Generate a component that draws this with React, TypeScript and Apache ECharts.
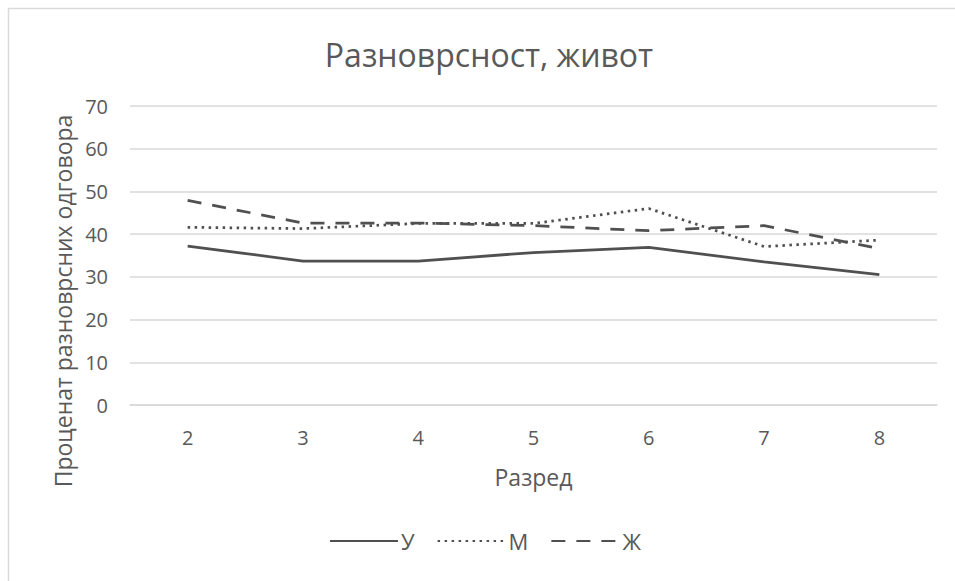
import React, { useEffect, useRef } from "react";
import * as echarts from "echarts";

const grades = ["2", "3", "4", "5", "6", "7", "8"];
const seriesU = [37.2, 33.7, 33.7, 35.7, 36.9, 33.5, 30.5];
const seriesM = [41.6, 41.3, 42.5, 42.5, 46.0, 37.1, 38.6];
const seriesZh = [47.9, 42.6, 42.6, 42.0, 40.8, 42.0, 36.6];
const yTicks = [0, 10, 20, 30, 40, 50, 60, 70];

const FONT = "'Open Sans', 'Noto Sans', sans-serif";
const GRAY = "#595959";
const LINE = "#505050";

export default function App() {
  const ref = useRef<HTMLDivElement>(null);

  useEffect(() => {
    document.body.style.margin = "0";
    if (!ref.current) return;
    const chart = echarts.init(ref.current, undefined, { renderer: "svg" });
    chart.setOption({
      animation: false,
      backgroundColor: "#ffffff",
      textStyle: { fontFamily: FONT },
      title: {
        text: "Разноврсност, живот",
        left: 484,
        top: 33,
        textAlign: "center",
        textStyle: { fontFamily: FONT, fontSize: 32, fontWeight: "normal", color: GRAY },
      },
      graphic: [
        {
          type: "polyline",
          shape: { points: [[8.5, 581], [8.5, 8.5], [955, 8.5]] },
          style: { fill: "none", stroke: "#d9d9d9", lineWidth: 1.5 },
          silent: true,
        },
        {
          type: "text",
          x: 63,
          y: 301,
          rotation: Math.PI / 2,
          style: {
            text: "Проценат разноврсних одговора",
            fontFamily: FONT,
            fontSize: 23,
            fill: GRAY,
            textAlign: "center",
            textVerticalAlign: "middle",
          },
        },
      ],
      legend: {
        top: 530,
        left: 329,
        padding: 0,
        itemWidth: 68,
        itemHeight: 10,
        itemGap: 22,
        itemStyle: { opacity: 0 },
        textStyle: { fontFamily: FONT, fontSize: 22, color: GRAY, padding: [0, 0, 0, -2] },
        data: ["У", "М", "Ж"],
      },
      grid: { left: 130, right: 18, top: 106, bottom: 176, containLabel: false },
      xAxis: {
        type: "category",
        data: grades,
        boundaryGap: true,
        name: "Разред",
        nameLocation: "middle",
        nameGap: 60,
        nameTextStyle: { fontFamily: FONT, fontSize: 23, color: GRAY },
        axisLine: { show: true, lineStyle: { color: "#d9d9d9", width: 1.5 } },
        axisTick: { show: false },
        axisLabel: { fontFamily: FONT, fontSize: 20, color: GRAY, margin: 22 },
      },
      yAxis: {
        type: "value",
        min: yTicks[0],
        max: yTicks[yTicks.length - 1],
        interval: 10,
        axisLine: { show: false },
        axisTick: { show: false },
        axisLabel: { fontFamily: FONT, fontSize: 20, color: GRAY, margin: 22 },
        splitLine: { lineStyle: { color: "#d9d9d9", width: 1.5 } },
      },
      series: [
        {
          name: "У",
          type: "line",
          data: seriesU,
          symbol: "none",
          lineStyle: { color: LINE, width: 2.75, type: "solid" },
          itemStyle: { color: LINE },
        },
        {
          name: "М",
          type: "line",
          data: seriesM,
          symbol: "none",
          lineStyle: { color: LINE, width: 2.75, type: [2.5, 4.5], cap: "butt" },
          itemStyle: { color: LINE },
        },
        {
          name: "Ж",
          type: "line",
          data: seriesZh,
          symbol: "none",
          lineStyle: { color: LINE, width: 2.75, type: [14, 11], cap: "butt" },
          itemStyle: { color: LINE },
        },
      ],
    });
    return () => chart.dispose();
  }, []);

  return <div ref={ref} style={{ width: 955, height: 581 }} />;
}
